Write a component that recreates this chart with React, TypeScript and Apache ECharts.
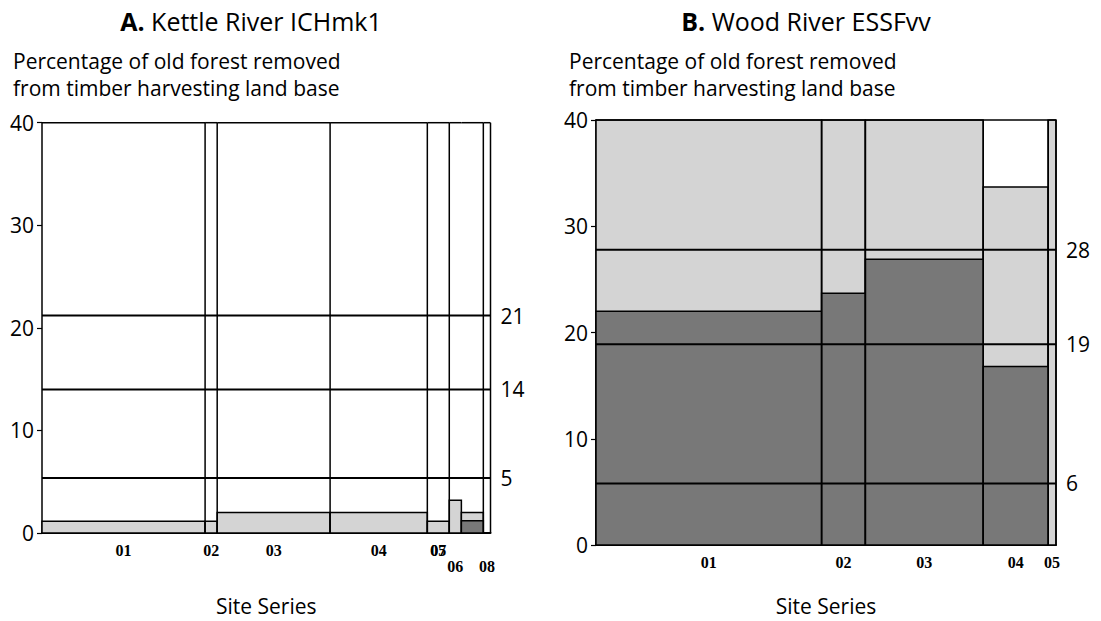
import React, { useEffect, useRef } from "react";
import * as echarts from "echarts";

// ---------- data ----------
// Panel A: Kettle River ICHmk1
const aSeriesNames = ["01", "02", "03", "04", "05", "06", "07", "08"];
const aWidths = [36.4, 2.7, 25.2, 21.7, 4.9, 2.7, 4.9, 1.6];
const aDark = [0, 0, 0, 0, 0, 0, 1.2, 0];
const aTotal = [1.15, 1.15, 2.0, 2.0, 1.15, 3.2, 2.0, 0];
const aRefValues = [21.2, 14.0, 5.35];
const aRefLabels = ["21", "14", "5"];

// Panel B: Wood River ESSFvv
const bSeriesNames = ["01", "02", "03", "04", "05"];
const bWidths = [49.0, 9.5, 25.6, 14.1, 1.7];
const bDark = [22.0, 23.7, 26.9, 16.8, 0];
const bTotal = [40, 40, 40, 33.7, 40];
const bRefValues = [27.8, 18.9, 5.8];
const bRefLabels = ["28", "19", "6"];

const yTicks = [0, 10, 20, 30, 40];

// ---------- layout / style ----------
const aDivider = [1, 1, 1, 1, 1, 0, 1, 1];
const bDivider = [1, 1, 1, 1, 1];
const aLabelAnchor = [0, 1, 2, 3, 4, 5, 4, 7];
const aLabelRow = [0, 0, 0, 0, 0, 1, 0, 1];
const bLabelAnchor = [0, 1, 2, 3, 4];
const bLabelRow = [0, 0, 0, 0, 0];

const LIGHT = "#d4d4d4";
const DARK = "#787878";
const SANS = "'Open Sans', 'Noto Sans', sans-serif";
const SERIF = "'Liberation Serif', 'DejaVu Serif', serif";

function cumulative(widths: number[]) {
  const starts: number[] = [];
  let s = 0;
  widths.forEach((w) => {
    starts.push(s);
    s += w;
  });
  return { starts, total: s };
}

function buildPanel(
  idx: number,
  widths: number[],
  dark: number[],
  total: number[],
  divider: number[],
  names: string[],
  labelAnchor: number[],
  labelRow: number[],
  refValues: number[],
  refLabels: string[]
) {
  const { starts, total: xMax } = cumulative(widths);
  const colData = widths.map((w, i) => [starts[i], starts[i] + w, dark[i], total[i], divider[i]]);
  const labelData = names.map((_, i) => {
    const a = labelAnchor[i];
    return [starts[a] + widths[a] / 2, labelRow[i], i];
  });
  const refData = refValues.map((v, i) => [xMax, v, i]);

  const columns = {
    type: "custom",
    xAxisIndex: idx,
    yAxisIndex: idx,
    z: 2,
    data: colData,
    renderItem: (params: any, api: any) => {
      const x0 = api.value(0);
      const x1 = api.value(1);
      const d = api.value(2);
      const t = api.value(3);
      const div = api.value(4);
      const bl = api.coord([x0, 0]);
      const tr = api.coord([x1, 40]);
      const left = bl[0];
      const right = tr[0];
      const bottom = bl[1];
      const top = tr[1];
      const children: any[] = [];
      if (t > 0) {
        const yT = api.coord([x1, t])[1];
        children.push({
          type: "rect",
          z2: 1,
          shape: { x: left, y: yT, width: right - left, height: bottom - yT },
          style: { fill: LIGHT, stroke: "#000", lineWidth: 1.5 },
        });
      }
      if (d > 0) {
        const yD = api.coord([x1, d])[1];
        children.push({
          type: "rect",
          z2: 2,
          shape: { x: left, y: yD, width: right - left, height: bottom - yD },
          style: { fill: DARK, stroke: "#000", lineWidth: 1.5 },
        });
      }
      children.push({
        type: "line",
        z2: 5,
        shape: { x1: left, y1: top, x2: right, y2: top },
        style: { stroke: "#000", lineWidth: 1.5 },
      });
      if (div) {
        children.push({
          type: "line",
          z2: 5,
          shape: { x1: right, y1: top, x2: right, y2: bottom },
          style: { stroke: "#000", lineWidth: 1.5 },
        });
      }
      return { type: "group", children };
    },
  };

  const refs = {
    type: "custom",
    xAxisIndex: idx,
    yAxisIndex: idx,
    z: 4,
    data: refData,
    renderItem: (params: any, api: any) => {
      const v = api.value(1);
      const i = api.value(2);
      const p0 = api.coord([0, v]);
      const p1 = api.coord([xMax, v]);
      return {
        type: "group",
        children: [
          {
            type: "line",
            shape: { x1: p0[0], y1: p0[1], x2: p1[0], y2: p1[1] },
            style: { stroke: "#000", lineWidth: 2 },
          },
          {
            type: "text",
            x: p1[0] + 10,
            y: p1[1],
            style: {
              text: refLabels[i],
              align: "left",
              verticalAlign: "middle",
              textAlign: "left",
              textVerticalAlign: "middle",
              fontSize: 21,
              fontFamily: SANS,
              fill: "#000",
            },
          },
        ],
      };
    },
  };

  const labels = {
    type: "custom",
    xAxisIndex: idx,
    yAxisIndex: idx,
    z: 4,
    data: labelData,
    renderItem: (params: any, api: any) => {
      const xc = api.value(0);
      const row = api.value(1);
      const i = api.value(2);
      const p = api.coord([xc, 0]);
      return {
        type: "text",
        x: p[0],
        y: p[1] + 17 + row * 16,
        style: {
          text: names[i],
          align: "center",
          verticalAlign: "middle",
          textAlign: "center",
          textVerticalAlign: "middle",
          fontSize: 16,
          fontWeight: "bold",
          fontFamily: SERIF,
          fill: "#000",
        },
      };
    },
  };

  return { xMax, series: [columns, refs, labels] };
}

export default function App() {
  const ref = useRef<HTMLDivElement>(null);

  useEffect(() => {
    if (!ref.current) return;
    const chart = echarts.init(ref.current, undefined, { renderer: "svg" });

    const A = buildPanel(0, aWidths, aDark, aTotal, aDivider, aSeriesNames, aLabelAnchor, aLabelRow, aRefValues, aRefLabels);
    const B = buildPanel(1, bWidths, bDark, bTotal, bDivider, bSeriesNames, bLabelAnchor, bLabelRow, bRefValues, bRefLabels);

    const yAxisBase = (gridIndex: number) => ({
      type: "value",
      gridIndex,
      min: yTicks[0],
      max: yTicks[yTicks.length - 1],
      interval: 10,
      splitLine: { show: false },
      axisLine: { show: true, lineStyle: { color: "#000", width: 1.5 } },
      axisTick: { show: true, length: 5, lineStyle: { color: "#000", width: 1.2 } },
      axisLabel: { color: "#000", fontSize: 21, fontFamily: SANS, margin: 8 },
    });

    const xAxisBase = (gridIndex: number, max: number, nameGap: number) => ({
      type: "value",
      gridIndex,
      min: 0,
      max,
      splitLine: { show: false },
      axisLine: { show: true, lineStyle: { color: "#000", width: 2 } },
      axisTick: { show: false },
      axisLabel: { show: false },
      name: "Site Series",
      nameLocation: "middle",
      nameGap,
      nameTextStyle: { color: "#000", fontSize: 21, fontFamily: SANS },
    });

    const yTitle = "Percentage of old forest removed\nfrom timber harvesting land base";

    const titleStyle = (text: string) => ({
      text,
      align: "center",
      verticalAlign: "middle",
      textAlign: "center",
      textVerticalAlign: "middle",
      fontSize: 25,
      fontFamily: SANS,
      fill: "#000",
      rich: { b: { fontSize: 25, fontWeight: "bold", fontFamily: SANS, fill: "#000", color: "#000" } },
    });

    const yTitleStyle = {
      text: yTitle,
      align: "left",
      verticalAlign: "top",
      textAlign: "left",
      textVerticalAlign: "top",
      fontSize: 21,
      lineHeight: 27,
      fontFamily: SANS,
      fill: "#000",
    };

    chart.setOption({
      animation: false,
      backgroundColor: "#fff",
      grid: [
        { left: 42, top: 122.7, width: 448.5, height: 422.6 },
        { left: 596, top: 120, width: 460, height: 436 },
      ],
      xAxis: [xAxisBase(0, A.xMax, 62), xAxisBase(1, B.xMax, 50)],
      yAxis: [yAxisBase(0), yAxisBase(1)],
      graphic: [
        { type: "text", x: 251, y: 21, style: titleStyle("{b|A.} Kettle River ICHmk1") },
        { type: "text", x: 806, y: 21, style: titleStyle("{b|B.} Wood River ESSFvv") },
        { type: "text", x: 13, y: 47, style: yTitleStyle },
        { type: "text", x: 569, y: 47, style: yTitleStyle },
      ],
      series: [...A.series, ...B.series],
    });

    return () => chart.dispose();
  }, []);

  return (
    <div
      ref={ref}
      style={{ position: "absolute", left: 0, top: 0, width: 1101, height: 621, background: "#fff" }}
    />
  );
}
